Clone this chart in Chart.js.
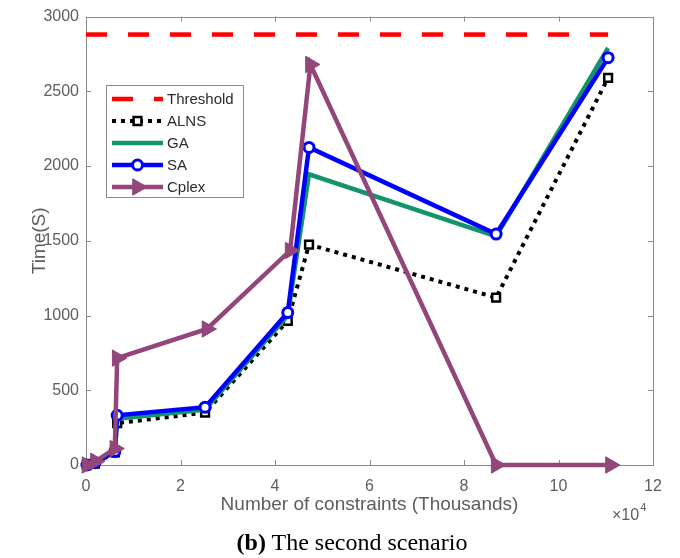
<!DOCTYPE html>
<html>
<head>
<meta charset="utf-8">
<script src="https://cdn.jsdelivr.net/npm/chart.js@4.4.1/dist/chart.umd.min.js"></script>
<style>
  html, body { margin: 0; padding: 0; background: #fff; }
  #wrap { position: relative; width: 680px; height: 558px; }
  #caption {
    position: absolute; left: 24px; top: 530px; width: 656px;
    text-align: center; font: 24px "Liberation Serif", "Times New Roman", serif;
    line-height: 24px; color: #000;
  }
</style>
</head>
<body>
<div id="wrap">
  <canvas id="timeChart" width="680" height="558"></canvas>
  <div id="caption"><b>(b)</b> The second scenario</div>
</div>
<script>
// 資料（約束數量、時間）
const constraintsX = [200, 1900, 6100, 6600, 25200, 42700, 47200, 86800, 110500];
const cplexX = [200, 2000, 6100, 6600, 25600, 43200, 47500, 86800, 111000];
const thresholdX = [0, 110500];
const thresholdY = [2880, 2880];
const alnsY = [0, 10, 85, 280, 350, 965, 1475, 1120, 2590];
const gaY = [0, 12, 90, 310, 370, 1000, 1945, 1530, 2790];
const saY = [0, 15, 90, 333, 387, 1020, 2125, 1545, 2725];
const cplexY = [0, 25, 110, 715, 910, 1435, 2680, 0, 0];
const xTicks = [0, 20000, 40000, 60000, 80000, 100000, 120000];
const yTicks = [0, 500, 1000, 1500, 2000, 2500, 3000];

const toPoints = (xs, ys) => xs.map((x, i) => ({ x: x, y: ys[i] }));

const AXIS_GRAY = '#8a8a8a';
const TEXT_GRAY = '#5e5e5e';
const SANS = '"Liberation Sans", Arial, sans-serif';

// 框線與向內刻度（MATLAB 風格）
const boxPlugin = {
  id: 'boxAxes',
  beforeDatasetsDraw(chart) {
    const { ctx, chartArea: a, scales } = chart;
    ctx.save();
    ctx.strokeStyle = AXIS_GRAY;
    ctx.lineWidth = 1;
    ctx.strokeRect(Math.round(a.left) + 0.5, Math.round(a.top) + 0.5,
      Math.round(a.right - a.left), Math.round(a.bottom - a.top));
    ctx.beginPath();
    xTicks.forEach(v => {
      const px = Math.round(scales.x.getPixelForValue(v)) + 0.5;
      ctx.moveTo(px, a.bottom); ctx.lineTo(px, a.bottom - 5);
      ctx.moveTo(px, a.top); ctx.lineTo(px, a.top + 5);
    });
    yTicks.forEach(v => {
      const py = Math.round(scales.y.getPixelForValue(v)) + 0.5;
      ctx.moveTo(a.left, py); ctx.lineTo(a.left + 5, py);
      ctx.moveTo(a.right, py); ctx.lineTo(a.right - 5, py);
    });
    ctx.stroke();
    ctx.restore();
  },
  afterDraw(chart) {
    const { ctx, chartArea: a } = chart;
    ctx.save();
    ctx.fillStyle = TEXT_GRAY;
    ctx.textBaseline = 'alphabetic';
    ctx.font = '16px ' + SANS;
    ctx.fillText('\u00d710', a.right - 41, 520);
    const w = ctx.measureText('\u00d710').width;
    ctx.font = '11px ' + SANS;
    ctx.fillText('4', a.right - 41 + w + 1, 511);
    ctx.restore();
  }
};

// 圖內圖例
const legendPlugin = {
  id: 'insideLegend',
  afterDraw(chart) {
    const ctx = chart.ctx;
    const box = { x: 106, y: 85, w: 137, h: 112 };
    ctx.save();
    ctx.fillStyle = '#ffffff';
    ctx.fillRect(box.x, box.y, box.w, box.h);
    ctx.strokeStyle = '#8c8c8c';
    ctx.lineWidth = 1;
    ctx.strokeRect(box.x + 0.5, box.y + 0.5, box.w, box.h);
    chart.data.datasets.forEach((ds, i) => {
      const y = box.y + 14 + i * 22;
      ctx.strokeStyle = ds.borderColor;
      ctx.lineWidth = ds.borderWidth;
      ctx.lineCap = 'butt';
      ctx.setLineDash(ds.borderDash || []);
      ctx.beginPath();
      ctx.moveTo(112, y);
      ctx.lineTo(163, y);
      ctx.stroke();
      ctx.setLineDash([]);
      if (ds.pointRadius > 0) {
        ctx.fillStyle = ds.pointBackgroundColor;
        ctx.strokeStyle = ds.pointBorderColor;
        ctx.lineWidth = ds.pointBorderWidth;
        Chart.helpers.drawPoint(ctx, {
          pointStyle: ds.pointStyle,
          radius: ds.pointRadius,
          rotation: ds.pointRotation || 0,
          borderWidth: ds.pointBorderWidth
        }, 137.5, y);
      }
      ctx.fillStyle = '#2b2b2b';
      ctx.font = '15px ' + SANS;
      ctx.textBaseline = 'middle';
      ctx.fillText(ds.label, 167, y + 1);
    });
    ctx.restore();
  }
};

new Chart(document.getElementById('timeChart'), {
  type: 'scatter',
  data: {
    datasets: [
      {
        label: 'Threshold',
        data: toPoints(thresholdX, thresholdY),
        showLine: true,
        borderColor: '#ff0000',
        borderWidth: 4.5,
        borderDash: [21, 21],
        pointRadius: 0,
        order: 5
      },
      {
        label: 'ALNS',
        data: toPoints(constraintsX, alnsY),
        showLine: true,
        borderColor: '#000000',
        borderWidth: 4,
        borderDash: [4, 5],
        pointStyle: 'rect',
        pointRadius: 5.5,
        pointBorderWidth: 2.5,
        pointBorderColor: '#000000',
        pointBackgroundColor: '#ffffff',
        order: 4
      },
      {
        label: 'GA',
        data: toPoints(constraintsX, gaY),
        showLine: true,
        borderColor: '#13956b',
        borderWidth: 4.5,
        pointRadius: 0,
        order: 3
      },
      {
        label: 'SA',
        data: toPoints(constraintsX, saY),
        showLine: true,
        borderColor: '#0000ff',
        borderWidth: 4.5,
        pointStyle: 'circle',
        pointRadius: 5,
        pointBorderWidth: 3,
        pointBorderColor: '#0000ff',
        pointBackgroundColor: '#ffffff',
        order: 2
      },
      {
        label: 'Cplex',
        data: toPoints(cplexX, cplexY),
        showLine: true,
        borderColor: '#934679',
        borderWidth: 4.5,
        pointStyle: 'triangle',
        pointRotation: 90,
        pointRadius: 9.5,
        pointBorderWidth: 1,
        pointBorderColor: '#934679',
        pointBackgroundColor: '#934679',
        order: 1
      }
    ]
  },
  options: {
    responsive: false,
    animation: false,
    clip: false,
    layout: { padding: { left: 0, right: 27, top: 15, bottom: 0 } },
    plugins: {
      legend: { display: false },
      tooltip: { enabled: false }
    },
    scales: {
      x: {
        type: 'linear',
        min: 0,
        max: 120000,
        afterFit: (scale) => { scale.height = 93; },
        afterBuildTicks: (scale) => { scale.ticks = xTicks.map(v => ({ value: v })); },
        grid: { display: false, drawTicks: false },
        border: { display: false },
        ticks: {
          padding: 12,
          autoSkip: false,
          maxRotation: 0,
          color: TEXT_GRAY,
          font: { family: SANS, size: 16 },
          callback: (v) => String(v / 10000)
        },
        title: {
          display: true,
          text: 'Number of constraints (Thousands)',
          color: TEXT_GRAY,
          font: { family: SANS, size: 19 },
          padding: { top: 0, bottom: 42 }
        }
      },
      y: {
        min: 0,
        max: 3000,
        afterFit: (scale) => { scale.width = 86; },
        afterBuildTicks: (scale) => { scale.ticks = yTicks.map(v => ({ value: v })); },
        grid: { display: false, drawTicks: false },
        border: { display: false },
        ticks: {
          padding: 7,
          color: TEXT_GRAY,
          font: { family: SANS, size: 16 },
          callback: (v) => String(v)
        },
        title: {
          display: true,
          text: 'Time(S)',
          color: TEXT_GRAY,
          font: { family: SANS, size: 19 },
          padding: { top: 28, bottom: 0 }
        }
      }
    }
  },
  plugins: [boxPlugin, legendPlugin]
});
</script>
</body>
</html>
